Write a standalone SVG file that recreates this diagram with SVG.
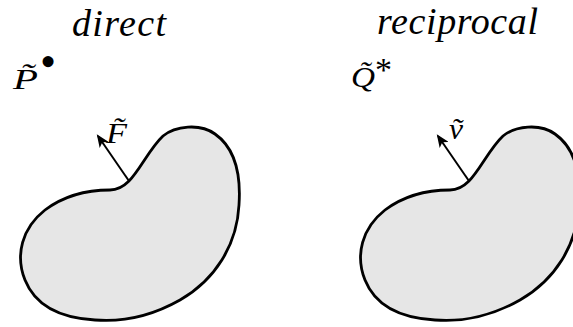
<svg xmlns="http://www.w3.org/2000/svg" width="573" height="327" viewBox="0 0 573 327">
<style>
.t{font-family:"Liberation Serif","DejaVu Serif",serif;font-style:italic;fill:#000}
.u{font-family:"Liberation Serif","DejaVu Serif",serif;fill:#000}
.title{font-size:38px}
.m{font-size:30px}
.blob{fill:#e6e6e6;stroke:#000;stroke-width:2.8;stroke-linejoin:round}
.arr{stroke:#000;stroke-width:2;fill:none;marker-end:url(#ah)}
</style>
<defs>
<marker id="ah" viewBox="0 0 12 10" refX="10" refY="5" markerWidth="6.5" markerHeight="5.5" orient="auto" markerUnits="strokeWidth">
<path d="M0,0 L12,5 L0,10 L3,5 Z" fill="#000"/>
</marker>
<path id="bean" d="M129,181 C140,170 150,148 163,136 C175,126 200,123 215,134 C235,148 241,175 239,205 C237,245 215,280 180,300 C150,317 120,322 95,320 C60,318 35,305 25,280 C15,255 22,228 45,210 C65,195 90,190 110,190 C118,190 124,186 129,181 Z"/>
</defs>
<g id="direct">
<text class="t title" x="72" y="36" textLength="94">direct</text>
<g id="point-P"><text class="t m" x="13" y="89" textLength="25" lengthAdjust="spacingAndGlyphs">P&#x303;</text><text class="u" style="font-size:46px" x="40" y="77">•</text></g>
<g id="body-left"><use href="#bean" class="blob"/></g>
<text class="t m" x="106" y="143" textLength="21" lengthAdjust="spacingAndGlyphs">F&#x303;</text>
</g>
<g id="reciprocal">
<text class="t title" x="377" y="34" textLength="161">reciprocal</text>
<g id="point-Q"><text class="t m" x="351" y="87" textLength="24" lengthAdjust="spacingAndGlyphs">Q&#x303;</text><text class="u" style="font-size:34px" x="375" y="81">*</text></g>
<g id="body-right"><use href="#bean" class="blob" transform="translate(340,0)"/></g>
<text class="t m" x="449" y="139" textLength="14" lengthAdjust="spacingAndGlyphs">v&#x303;</text>
</g>
<g id="connectors">
<line class="arr" x1="129" y1="181" x2="98" y2="136"/>
<line class="arr" x1="469" y1="181" x2="438" y2="136"/>
</g>
</svg>
